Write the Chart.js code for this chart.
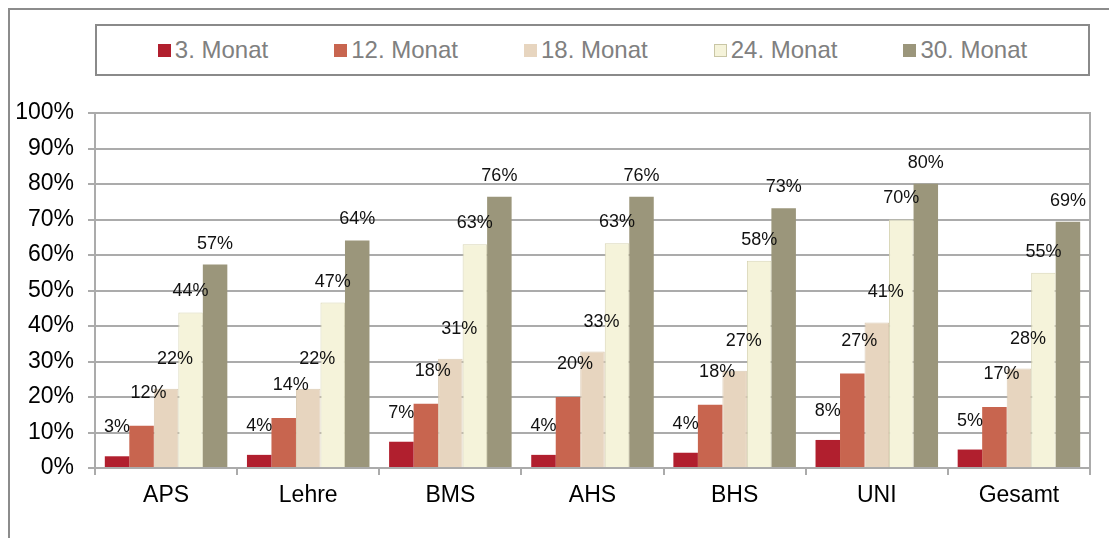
<!DOCTYPE html>
<html>
<head>
<meta charset="utf-8">
<script src="https://cdn.jsdelivr.net/npm/chart.js@4.4.1/dist/chart.umd.min.js"></script>
<style>
  html, body { margin: 0; padding: 0; background: #fff; width: 1109px; height: 538px; overflow: hidden; }
  #frame { position: absolute; left: 8px; top: 8px; width: 1200px; height: 600px; border-left: 2px solid #8c8c8c; border-top: 2px solid #8c8c8c; }
  #chart { position: absolute; left: 0; top: 0; }
  #legend { position: absolute; left: 95px; top: 24px; width: 995px; height: 52px; box-sizing: border-box;
            border: 2px solid #8a8a8a; background: #fff; display: flex; align-items: center; justify-content: center; gap: 66px;
            font-family: "Liberation Sans", Arial, sans-serif; font-size: 24px; color: #808080; }
  .item { display: flex; align-items: center; white-space: nowrap; }
  .box { width: 13px; height: 13px; margin-right: 4px; box-sizing: border-box; }
</style>
</head>
<body>
<div id="frame"></div>
<canvas id="chart" width="1109" height="538"></canvas>
<div id="legend"></div>
<script>
const categories = ["APS", "Lehre", "BMS", "AHS", "BHS", "UNI", "Gesamt"];
const seriesNames = ["3. Monat", "12. Monat", "18. Monat", "24. Monat", "30. Monat"];
const monat3  = [3.3, 3.7, 7.4, 3.7, 4.3, 7.9, 5.2];
const monat12 = [11.9, 14.1, 18.1, 20.0, 17.8, 26.6, 17.2];
const monat18 = [22.3, 22.3, 30.8, 32.8, 27.4, 41.0, 28.0];
const monat24 = [43.8, 46.6, 63.0, 63.3, 58.4, 70.0, 55.0];
const monat30 = [57.3, 64.1, 76.4, 76.4, 73.2, 80.1, 69.4];
const yTicks = [0, 10, 20, 30, 40, 50, 60, 70, 80, 90, 100];

const colors = ["#B11F2E", "#C8654F", "#E7D5BF", "#F5F3DA", "#9B967B"];
const borders = ["#B11F2E", "#C8654F", "#DCCBB4", "#D8D5B5", "#9B967B"];
const labelShift = [[0, 29], [7, 33], [9, 30], [0, 21], [0, 21]];
const seriesValues = [monat3, monat12, monat18, monat24, monat30];

const GRID = "#ababab";
const FONT = '"Liberation Sans", Arial, sans-serif';

const datasets = seriesValues.map((vals, i) => ({
  label: seriesNames[i],
  data: vals,
  backgroundColor: colors[i],
  borderColor: borders[i],
  borderWidth: (i === 2 || i === 3) ? 1 : 0,
  labelDx: labelShift[i][0],
  labelDy: labelShift[i][1]
}));

// HTML legend
const legendEl = document.getElementById('legend');
seriesNames.forEach((n, i) => {
  const it = document.createElement('div'); it.className = 'item';
  const b = document.createElement('div'); b.className = 'box';
  b.style.background = colors[i];
  if (i === 3) b.style.border = '1px solid #C9C6A5';
  const t = document.createElement('span'); t.textContent = n;
  it.appendChild(b); it.appendChild(t); legendEl.appendChild(it);
});

const valueLabels = {
  id: 'valueLabels',
  afterDatasetsDraw(chart) {
    const ctx = chart.ctx;
    ctx.save();
    ctx.font = '18px ' + FONT;
    ctx.fillStyle = '#111';
    ctx.textAlign = 'center';
    ctx.textBaseline = 'middle';
    chart.data.datasets.forEach((ds, di) => {
      const meta = chart.getDatasetMeta(di);
      meta.data.forEach((bar, j) => {
        ctx.fillText(Math.round(ds.data[j]) + '%', bar.x + ds.labelDx, bar.y - ds.labelDy);
      });
    });
    ctx.restore();
  }
};

const rightBorder = {
  id: 'rightBorder',
  afterDraw(chart) {
    const a = chart.chartArea, ctx = chart.ctx;
    ctx.save();
    ctx.strokeStyle = GRID; ctx.lineWidth = 2;
    ctx.beginPath(); ctx.moveTo(a.right, a.top - 1); ctx.lineTo(a.right, a.bottom); ctx.stroke();
    ctx.restore();
  }
};

new Chart(document.getElementById('chart'), {
  type: 'bar',
  data: { labels: categories, datasets },
  options: {
    responsive: false,
    animation: false,
    layout: { padding: { top: 113, right: 19, left: 0, bottom: 0 } },
    plugins: { legend: { display: false }, tooltip: { enabled: false } },
    datasets: { bar: { categoryPercentage: 0.862, barPercentage: 1.0 } },
    scales: {
      x: {
        afterFit(s) { s.height = 70; },
        grid: { display: true, drawOnChartArea: false, drawTicks: true, tickLength: 7, color: GRID, lineWidth: 2, offset: true },
        border: { display: true, color: GRID, width: 2 },
        ticks: { color: '#000', font: { family: FONT, size: 23 }, padding: 7 }
      },
      y: {
        min: 0, max: 100,
        afterFit(s) { s.width = 95; },
        afterBuildTicks(s) { s.ticks = yTicks.map(v => ({ value: v })); },
        grid: { color: GRID, lineWidth: 2, tickLength: 7, drawTicks: true },
        border: { display: true, color: GRID, width: 2 },
        ticks: { color: '#000', font: { family: FONT, size: 23 }, padding: 14, callback: v => v + '%' }
      }
    }
  },
  plugins: [valueLabels, rightBorder]
});
</script>
</body>
</html>
